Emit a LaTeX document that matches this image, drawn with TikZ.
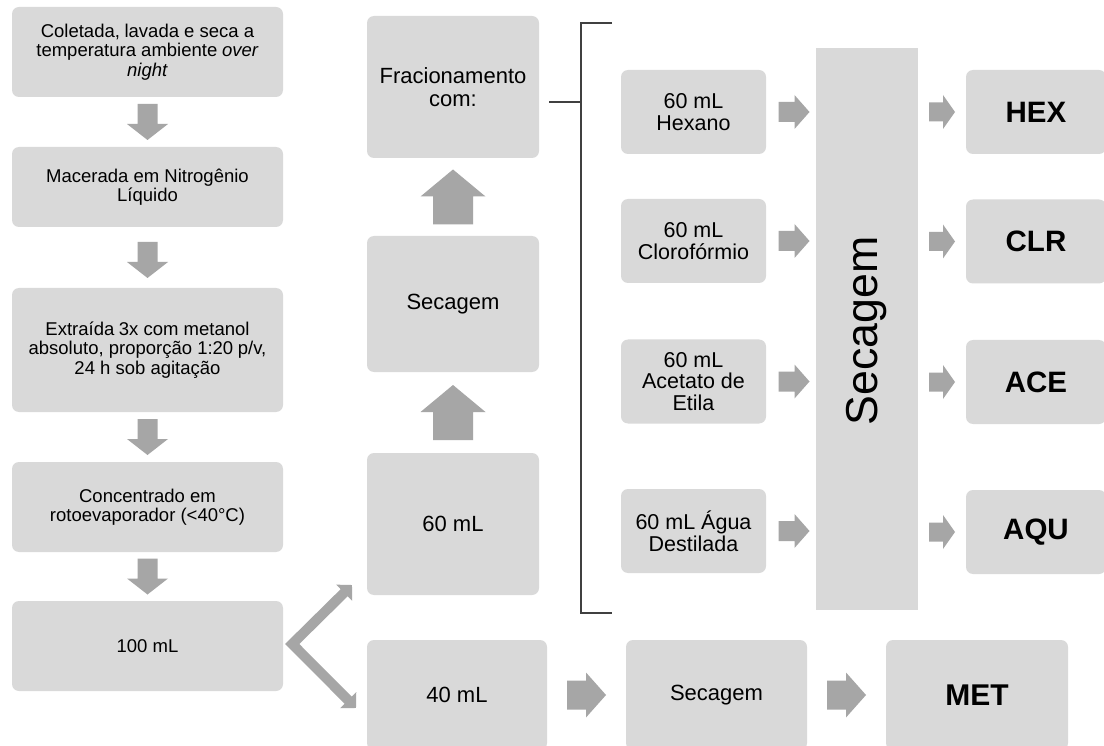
\documentclass[tikz,border=0pt]{standalone}
\usepackage{fontspec}
\setmainfont{Liberation Sans}
\usetikzlibrary{calc,arrows.meta}
\definecolor{boxgray}{HTML}{D9D9D9}
\definecolor{arrgray}{HTML}{A6A6A6}
\definecolor{brk}{HTML}{404040}
% block arrow: #1 centre, #2 angle, #3 length, #4 head length, #5 shaft width, #6 head width
\newcommand\blockarrow[6]{%
  \begin{scope}[shift={#1},rotate=#2]
    \fill[arrgray] (-#3/2,-#5/2) -- (#3/2-#4,-#5/2) -- (#3/2-#4,-#6/2) -- (#3/2,0)
      -- (#3/2-#4,#6/2) -- (#3/2-#4,#5/2) -- (-#3/2,#5/2) -- cycle;
  \end{scope}}
\newcommand\dsp{\hspace{0.25em}}
\begin{document}
\begin{tikzpicture}[x=1pt,y=-1pt,
  box/.style={fill=boxgray, rounded corners=7pt, inner sep=0pt, align=center},
  lbox/.style={box, minimum width=271pt, font=\fontsize{18.5}{19.5}\selectfont},
  mbox/.style={box, minimum width=172pt, font=\fontsize{22}{23}\selectfont},
  sbox/.style={box, minimum width=145pt, minimum height=84pt, font=\fontsize{21.5}{21.7}\selectfont},
  obox/.style={box, minimum width=140pt, minimum height=84pt, font=\fontsize{29.5}{30}\selectfont\bfseries},
  chev/.style={arrgray, line width=10pt, line join=miter},
  brkline/.style={brk, line width=1.5pt}
]
\clip (0,0) rectangle (1104,746);
\fill[white] (0,0) rectangle (1104,746);

% left column
\node[lbox, minimum height=90pt] (b1) at (147.5,52) {Coletada,\dsp lavada e seca a\\temperatura ambiente\dsp \textit{over}\\\textit{night}};
\node[lbox, minimum height=80pt] (b2) at (147.5,187) {Macerada em Nitrogênio\\Líquido};
\node[lbox, minimum height=124pt] (b3) at (147.5,350) {Extraída\dsp 3x com metanol\\absoluto, proporção 1:20\dsp p/v,\\24 h sob agitação};
\node[lbox, minimum height=90pt] (b4) at (147.5,507) {Concentrado em\\rotoevaporador (<40°C)};
\node[lbox, minimum height=90pt] (b5) at (147.5,646) {100 mL};

% middle column
\node[mbox, minimum height=142pt] (m1) at (453,87) {Fracionamento\\com:};
\node[mbox, minimum height=136pt] (m2) at (453,304) {Secagem};
\node[mbox, minimum height=142pt] (m3) at (453,524) {60 mL};

% bottom row
\node[mbox, minimum width=180pt, minimum height=110pt] (n1) at (457,695) {40 mL};
\node[mbox, minimum width=181pt, minimum height=110pt] (n2) at (716.5,695) {Secagem};
\node[mbox, minimum width=182pt, minimum height=110pt, font=\fontsize{30}{30}\selectfont\bfseries] (n3) at (977,695) {MET};

% solvents
\node[sbox] (s1) at (693.5,112) {60 mL\\Hexano};
\node[sbox] (s2) at (693.5,241) {60 mL\\Clorofórmio};
\node[sbox] (s3) at (693.5,381.5) {60 mL\\Acetato de\\Etila};
\node[sbox] (s4) at (693.5,531) {60 mL Água\\Destilada};

% tall drying box
\node[fill=boxgray, minimum width=102pt, minimum height=562pt, inner sep=0pt] (tall) at (867,329) {};
\node[rotate=90, font=\fontsize{44.7}{45}\selectfont, inner sep=0pt] (tallt) at (867,331) {Secagem};

% outputs
\node[obox] (o1) at (1036,112) {HEX};
\node[obox] (o2) at (1036,241.5) {CLR};
\node[obox] (o3) at (1036,382) {ACE};
\node[obox] (o4) at (1036,532) {AQU};

% left down arrows
\blockarrow{($(b1.south)!0.5!(b2.north)$)}{-90}{36}{16}{20}{41}
\blockarrow{($(b2.south)!0.5!(b3.north)+(0,2.5)$)}{-90}{36}{16}{20}{41}
\blockarrow{($(b3.south)!0.5!(b4.north)$)}{-90}{36}{16}{20}{41}
\blockarrow{($(b4.south)!0.5!(b5.north)$)}{-90}{36}{16}{20}{41}

% middle up arrows
\blockarrow{($(m2.north)!0.5!(m1.south)$)}{90}{55}{27}{40}{65}
\blockarrow{($(m3.north)!0.5!(m2.south)$)}{90}{55}{27}{40}{65}

% solvent -> drying arrows
\blockarrow{($(s1.east)!0.5!(tall.west|-s1.east)+(3,0)$)}{0}{31}{15}{20}{34}
\blockarrow{($(s2.east)!0.5!(tall.west|-s2.east)+(3,0)$)}{0}{31}{15}{20}{34}
\blockarrow{($(s3.east)!0.5!(tall.west|-s3.east)+(3,0)$)}{0}{31}{15}{20}{34}
\blockarrow{($(s4.east)!0.5!(tall.west|-s4.east)+(3,0)$)}{0}{31}{15}{20}{34}

% drying -> outputs
\blockarrow{($(tall.east|-o1.west)!0.5!(o1.west)$)}{0}{26}{12}{19}{34}
\blockarrow{($(tall.east|-o2.west)!0.5!(o2.west)$)}{0}{26}{12}{19}{34}
\blockarrow{($(tall.east|-o3.west)!0.5!(o3.west)$)}{0}{26}{12}{19}{34}
\blockarrow{($(tall.east|-o4.west)!0.5!(o4.west)$)}{0}{26}{12}{19}{34}

% bottom arrows
\blockarrow{($(n1.east)!0.5!(n2.west)$)}{0}{39}{20}{29}{45}
\blockarrow{($(n2.east)!0.5!(n3.west)$)}{0}{39}{20}{29}{45}

% chevron split
\coordinate (cv) at ($(b5.east)+(9,-2)$);
\coordinate (cu) at (352,585);
\coordinate (cl) at (356,708);
\draw[chev, {Triangle[length=11pt,width=22pt]}-{Triangle[length=11pt,width=22pt]}] (cu) -- (cv) -- (cl);

% bracket
\coordinate (bt) at (581,23);
\coordinate (bb) at (581,613);
\coordinate (tk) at ($(m1.east)+(10,15)$);
\draw[brkline] ($(bt)+(31,0)$) -- (bt) -- (bb) -- ($(bb)+(31,0)$);
\draw[brkline] (tk) -- (tk-|bt);
\end{tikzpicture}
\end{document}
